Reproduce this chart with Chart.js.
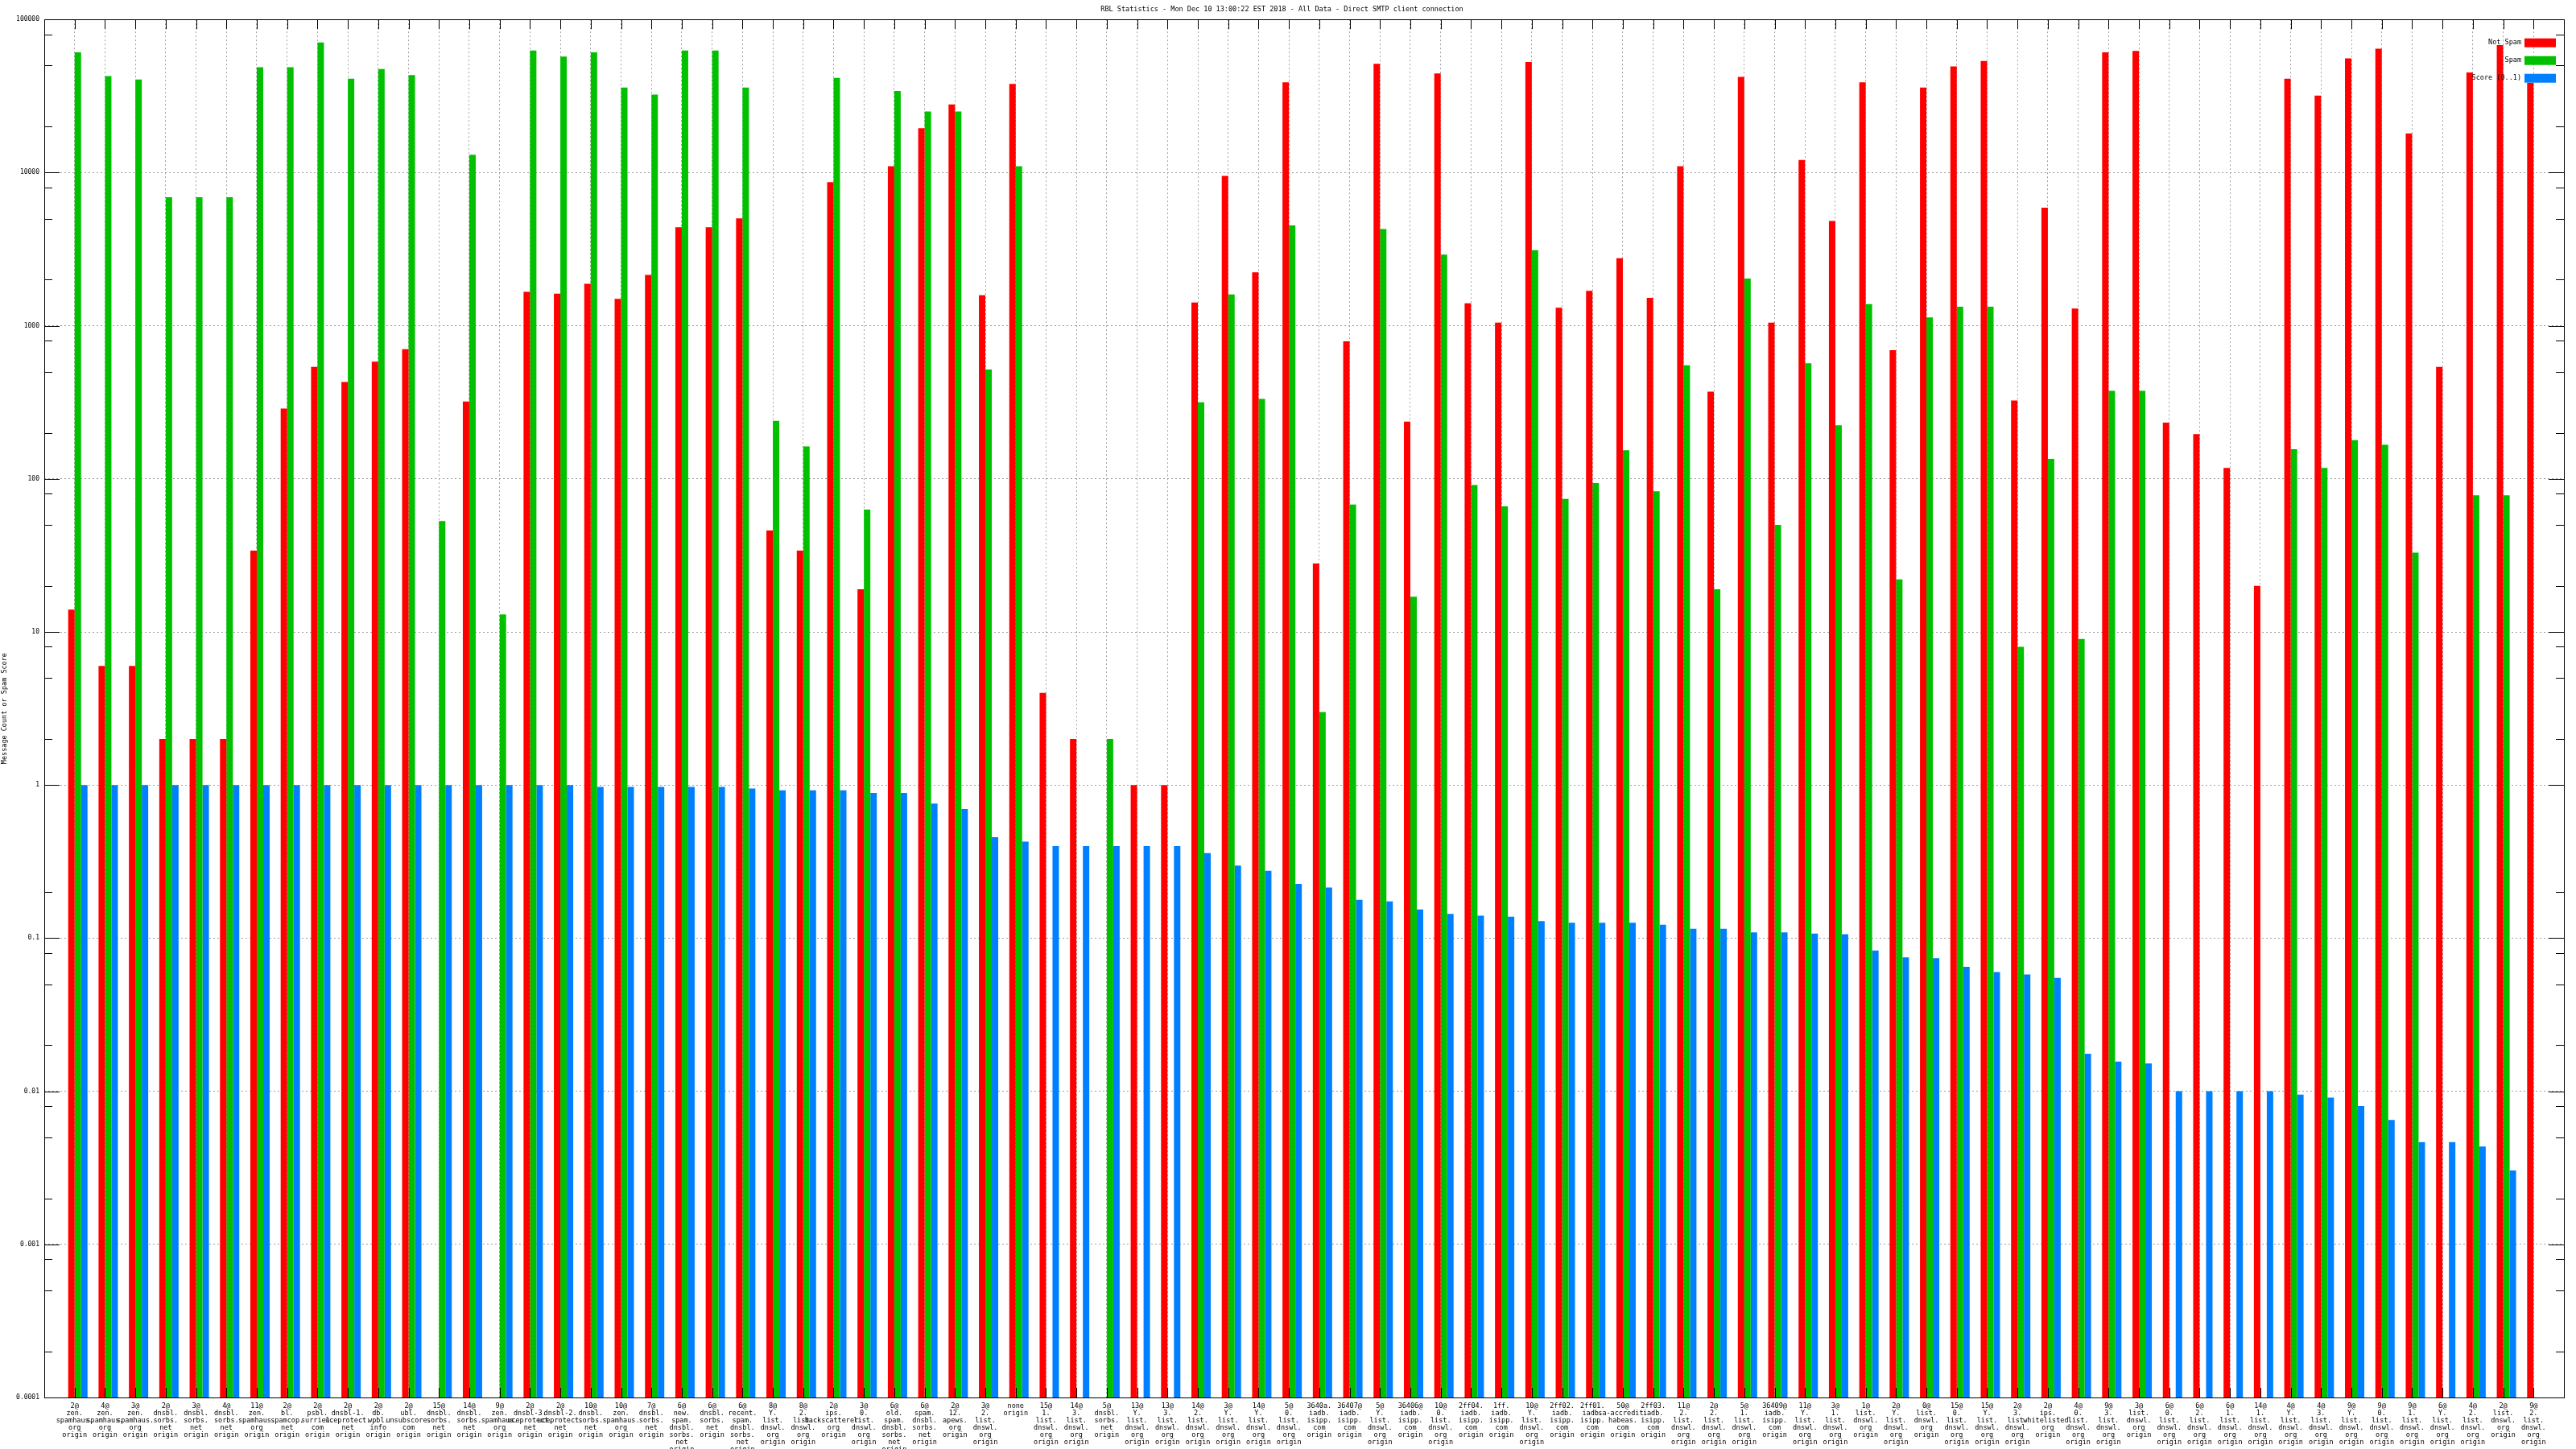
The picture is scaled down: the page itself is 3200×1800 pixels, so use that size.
<!DOCTYPE html>
<html>
<head>
<meta charset="utf-8">
<title>RBL Statistics</title>
<script src="https://cdn.jsdelivr.net/npm/chart.js@4.4.1/dist/chart.umd.min.js"></script>
<style>
  html, body { margin: 0; padding: 0; background: #fff; }
  #wrap { width: 3200px; height: 1800px; }
</style>
</head>
<body>
<div id="wrap"><canvas id="rbl"></canvas></div>
<script>
const categories = [
  "2@zen.spamhaus.org origin", "4@zen.spamhaus.org origin", "3@zen.spamhaus.org origin",
  "2@dnsbl.sorbs.net origin", "3@dnsbl.sorbs.net origin", "4@dnsbl.sorbs.net origin",
  "11@zen.spamhaus.org origin", "2@bl.spamcop.net origin", "2@psbl.surriel.com origin",
  "2@dnsbl-1.uceprotect.net origin", "2@db.wpbl.info origin", "2@ubl.unsubscore.com origin",
  "15@dnsbl.sorbs.net origin", "14@dnsbl.sorbs.net origin", "9@zen.spamhaus.org origin",
  "2@dnsbl-3.uceprotect.net origin", "2@dnsbl-2.uceprotect.net origin", "10@dnsbl.sorbs.net origin",
  "10@zen.spamhaus.org origin", "7@dnsbl.sorbs.net origin", "6@new.spam.dnsbl.sorbs.net origin",
  "6@dnsbl.sorbs.net origin", "6@recent.spam.dnsbl.sorbs.net origin", "8@Y.list.dnswl.org origin",
  "8@2.list.dnswl.org origin", "2@ips.backscatterer.org origin", "3@0.list.dnswl.org origin",
  "6@old.spam.dnsbl.sorbs.net origin", "6@spam.dnsbl.sorbs.net origin", "2@12.apews.org origin",
  "3@2.list.dnswl.org origin", "none origin", "15@1.list.dnswl.org origin",
  "14@3.list.dnswl.org origin", "5@dnsbl.sorbs.net origin", "13@Y.list.dnswl.org origin",
  "13@3.list.dnswl.org origin", "14@2.list.dnswl.org origin", "3@Y.list.dnswl.org origin",
  "14@Y.list.dnswl.org origin", "5@0.list.dnswl.org origin", "3640a.iadb.isipp.com origin",
  "36407@iadb.isipp.com origin", "5@Y.list.dnswl.org origin", "36406@iadb.isipp.com origin",
  "10@0.list.dnswl.org origin", "2ff04.iadb.isipp.com origin", "1ff.iadb.isipp.com origin",
  "10@Y.list.dnswl.org origin", "2ff02.iadb.isipp.com origin", "2ff01.iadb.isipp.com origin",
  "50@sa-accredit.habeas.com origin", "2ff03.iadb.isipp.com origin", "11@2.list.dnswl.org origin",
  "2@2.list.dnswl.org origin", "5@1.list.dnswl.org origin", "36409@iadb.isipp.com origin",
  "11@Y.list.dnswl.org origin", "3@1.list.dnswl.org origin", "1@list.dnswl.org origin",
  "2@Y.list.dnswl.org origin", "0@list.dnswl.org origin", "15@0.list.dnswl.org origin",
  "15@Y.list.dnswl.org origin", "2@3.list.dnswl.org origin", "2@ips.whitelisted.org origin",
  "4@0.list.dnswl.org origin", "9@3.list.dnswl.org origin", "3@list.dnswl.org origin",
  "6@0.list.dnswl.org origin", "6@2.list.dnswl.org origin", "6@1.list.dnswl.org origin",
  "14@1.list.dnswl.org origin", "4@Y.list.dnswl.org origin", "4@3.list.dnswl.org origin",
  "9@Y.list.dnswl.org origin", "9@0.list.dnswl.org origin", "9@1.list.dnswl.org origin",
  "6@Y.list.dnswl.org origin", "4@2.list.dnswl.org origin", "2@list.dnswl.org origin",
  "9@2.list.dnswl.org origin"
];

const notSpam = [
  14, 6, 6, 2, 2, 2, 34, 288, 538, 429, 583, 702, null, 320, null,
  1666, 1622, 1878, 1498, 2145, 4397, 4397, 5020, 46, 34, 8660, 19, 11000, 19500, 27900,
  1580, 37900, 4, 2, null, 1, 1, 1420, 9510, 2232, 38900, 28, 791, 51400, 236,
  44400, 1402, 1047, 52800, 1312, 1688, 2761, 1518, 11000, 371, 42150, 1047, 12080, 4827, 38900,
  693, 35900, 49400, 53550, 325, 5890, 1294, 61100, 62300, 233, 196, 118, 20, 41000, 31880,
  55700, 64500, 18000, 538, 45040, 68000, 38600
];

const spam = [
  61100, 42700, 40500, 6910, 6910, 6910, 48800, 48800, 70800, 41000, 47500, 43300, 53, 13080, 13,
  62800, 57200, 61100, 35900, 32300, 62800, 62800, 35900, 239, 163, 41600, 63, 34100, 25100, 25100,
  517, 11000, null, null, 2, null, null, 316, 1600, 333, 4515, 3, 68, 4280, 17,
  2912, 91, 66, 3112, 74, 94, 154, 83, 552, 19, 2033, 50, 568, 224, 1383,
  22, 1133, 1329, 1329, 8, 135, 9, 376, 376, null, null, null, null, 156, 118,
  179, 167, 33, null, 78, 78, null
];

const score = [
  1, 1, 1, 1, 1, 1, 1, 1, 1, 1, 1, 1, 1, 1, 1,
  1, 1, 0.974, 0.974, 0.974, 0.974, 0.974, 0.95, 0.923, 0.923, 0.923, 0.887, 0.887, 0.756, 0.698,
  0.456, 0.427, 0.4, 0.4, 0.4, 0.4, 0.4, 0.359, 0.298, 0.275, 0.226, 0.214, 0.178, 0.174, 0.154,
  0.144, 0.14, 0.138, 0.129, 0.126, 0.126, 0.126, 0.1225, 0.115, 0.115, 0.109, 0.109, 0.107, 0.106, 0.083,
  0.075, 0.074, 0.065, 0.06, 0.058, 0.055, 0.0176, 0.0156, 0.0152, 0.01, 0.01, 0.01, 0.01, 0.0095, 0.0091,
  0.008, 0.0065, 0.00465, 0.00465, 0.00435, 0.00304, null
];

const yTickValues = [0.0001, 0.001, 0.01, 0.1, 1, 10, 100, 1000, 10000, 100000];
const yMinorTicks = [
  0.0002, 0.0005, 0.0008, 0.002, 0.005, 0.008, 0.02, 0.05, 0.08, 0.2,
  2, 5, 8, 20, 50, 80, 200, 500, 800, 2000, 5000, 8000, 20000, 50000, 80000
];

const FONT = "'DejaVu Sans Mono', monospace";

// one empty slot at each end so the frame sits a full slot away from the first/last group
const labels = ["", ...categories, ""];
const pad = arr => [null, ...arr, null];

function splitLabel(s) {
  if (!s) return "";
  const [host, tail] = s.split(" ");
  const parts = host.match(/[^.@]+[.@]?/g);
  return tail ? parts.concat([tail]) : parts;
}

const frame = {
  id: "frame",
  afterDatasetsDraw(chart) {
    const { ctx, chartArea: a, scales } = chart;
    const y = scales.y, x = scales.x;
    ctx.save();
    ctx.strokeStyle = "#000";
    ctx.lineWidth = 1;
    ctx.beginPath();
    const yTick = (v, len) => {
      const py = Math.round(y.getPixelForValue(v)) + 0.5;
      ctx.moveTo(a.left, py); ctx.lineTo(a.left + len, py);
      ctx.moveTo(a.right, py); ctx.lineTo(a.right - len, py);
    };
    yTickValues.forEach(v => yTick(v, 19));
    yMinorTicks.forEach(v => yTick(v, 10));
    for (let i = 1; i <= categories.length; i++) {
      const px = Math.round(x.getPixelForValue(i)) + 0.5;
      ctx.moveTo(px, a.top); ctx.lineTo(px, a.top + 12);
      ctx.moveTo(px, a.bottom); ctx.lineTo(px, a.bottom - 12);
    }
    ctx.stroke();
    ctx.strokeRect(Math.round(a.left) + 0.5, Math.round(a.top) + 0.5,
      Math.round(a.right - a.left), Math.round(a.bottom - a.top));
    ctx.restore();
  },
  afterDraw(chart) {
    const { ctx, chartArea: a } = chart;
    ctx.save();
    ctx.font = "8.5px " + FONT;
    ctx.textAlign = "right";
    ctx.textBaseline = "middle";
    let row = 0;
    chart.data.datasets.forEach(ds => {
      if (!ds.label) return;
      const cy = a.top + 29 + row * 22;
      ctx.fillStyle = "#000";
      ctx.fillText(ds.label, a.right - 53, cy);
      ctx.fillStyle = ds.backgroundColor;
      ctx.fillRect(a.right - 49, cy - 5.5, 39, 11);
      row++;
    });
    ctx.restore();
  }
};

new Chart(document.getElementById("rbl"), {
  type: "bar",
  data: {
    labels: labels,
    datasets: [
      // empty slot so each group starts at its tick like the original
      { label: "", data: pad(categories.map(() => null)), backgroundColor: "rgba(0,0,0,0)" },
      { label: "Not Spam", data: pad(notSpam), backgroundColor: "#ff0000" },
      { label: "Spam", data: pad(spam), backgroundColor: "#00c000" },
      { label: "Score (0..1)", data: pad(score), backgroundColor: "#0080ff" }
    ]
  },
  options: {
    responsive: true,
    maintainAspectRatio: false,
    animation: false,
    events: [],
    layout: { padding: { left: 0, right: 15, top: 0, bottom: 0 } },
    datasets: { bar: { categoryPercentage: 0.8486, barPercentage: 1, borderWidth: 0 } },
    plugins: {
      legend: { display: false },
      tooltip: { enabled: false },
      title: {
        display: true,
        text: "RBL Statistics - Mon Dec 10 13:00:22 EST 2018 - All Data - Direct SMTP client connection",
        color: "#000",
        font: { family: FONT, size: 8.5, weight: "normal", lineHeight: 1.2 },
        padding: { top: 7, bottom: 7 }
      }
    },
    scales: {
      x: {
        type: "category",
        offset: false,
        afterFit(scale) { scale.height = 64; },
        grid: {
          offset: false,
          drawTicks: false,
          lineWidth: 1,
          color: c => (c.index === 0 || c.index === labels.length - 1) ? "rgba(0,0,0,0)" : "#a0a0a0"
        },
        border: { display: false, dash: [2, 3] },
        ticks: {
          autoSkip: false,
          maxRotation: 0,
          minRotation: 0,
          padding: 6,
          color: "#000",
          font: { family: FONT, size: 8.5, lineHeight: "9px" },
          callback(value) { return splitLabel(this.getLabelForValue(value)); }
        }
      },
      y: {
        type: "logarithmic",
        min: 0.0001,
        max: 100000,
        afterFit(scale) { scale.width = 55; },
        afterBuildTicks(scale) {
          scale.ticks = yTickValues.map(v => ({ value: v, major: false }));
        },
        grid: {
          drawTicks: false,
          lineWidth: 1,
          color: c => (c.tick && (c.tick.value === 0.0001 || c.tick.value === 100000)) ? "rgba(0,0,0,0)" : "#a0a0a0"
        },
        border: { display: false, dash: [2, 3] },
        ticks: {
          autoSkip: false,
          padding: 6,
          color: "#000",
          font: { family: FONT, size: 8 },
          callback: v => String(v)
        },
        title: {
          display: true,
          text: "Message Count or Spam Score",
          color: "#000",
          font: { family: FONT, size: 8.5, lineHeight: 1.2 },
          padding: { top: 1, bottom: 0 }
        }
      }
    }
  },
  plugins: [frame]
});
</script>
</body>
</html>
